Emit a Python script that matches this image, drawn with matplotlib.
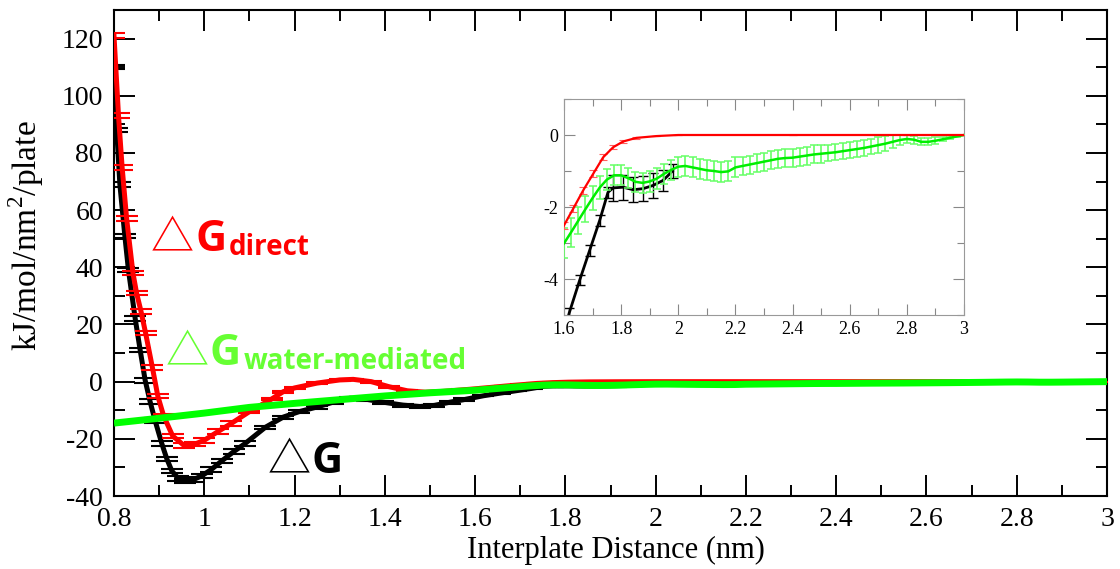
import matplotlib
matplotlib.use("Agg")
import matplotlib.pyplot as plt
from matplotlib.ticker import MultipleLocator, FuncFormatter

plt.rcParams['font.family'] = ['Liberation Serif', 'DejaVu Serif']
plt.rcParams['mathtext.fontset'] = 'custom'
plt.rcParams['mathtext.rm'] = 'Liberation Serif'

# dG total (black)
tot_x = [0.800, 0.806, 0.813, 0.824, 0.832, 0.847, 0.858, 0.869, 0.880, 0.891, 0.906, 0.917, 0.928,
         0.942, 0.957, 0.975, 0.994, 1.015, 1.039, 1.065, 1.090, 1.135, 1.175, 1.210, 1.249, 1.285,
         1.323, 1.360, 1.397, 1.440, 1.478, 1.510, 1.544, 1.575, 1.618, 1.655, 1.690, 1.725, 1.754,
         1.772, 1.807, 1.842, 1.877, 1.912, 1.947, 1.980]
tot_y = [110, 88, 69, 51, 39, 22, 11, 0.5, -7, -13.6, -21.7, -27, -31.2,
         -33.8, -34.7, -34.3, -33, -30.8, -27.7, -24.5, -21.7, -16, -12.4, -10.5, -8.9, -7.2,
         -5.8, -6.2, -7.2, -8.2, -8.7, -8.3, -7.2, -6.3, -4.95, -4.03, -3.2, -2.37, -1.59,
         -1.47, -1.45, -1.52, -1.49, -1.4, -1.26, -1.0]
tot_err = [0.8] * 21 + [0.5] * 13 + [0.15, 0.15, 0.15, 0.15, 0.15, 0.35, 0.35, 0.35, 0.35, 0.35, 0.3, 0.2]

# dG direct (red)
dir_x = [0.800, 0.810, 0.818, 0.828, 0.842, 0.850, 0.860, 0.870, 0.885, 0.897, 0.910, 0.930, 0.955,
         0.980, 1.000, 1.030, 1.060, 1.100, 1.150, 1.175, 1.200, 1.250, 1.300, 1.330, 1.370, 1.410,
         1.450, 1.490, 1.530, 1.570, 1.600, 1.632, 1.667, 1.702, 1.737, 1.772, 1.807, 1.853, 1.923,
         2.000, 2.400, 2.800, 3.000]
dir_y = [121, 93, 75, 57, 38, 31, 24.5, 17, 5, -5, -12, -19, -22.3,
         -21.8, -20.5, -17.5, -14.6, -10.5, -6, -3.5, -2.2, -0.5, 0.6, 0.8, 0, -1.8,
         -3.2, -3.7, -3.4, -2.9, -2.51, -2.05, -1.54, -1.08, -0.62, -0.34, -0.18, -0.08, -0.03,
         0, 0, 0, 0]
dir_err = [0.8] * 17 + [0.3] * 13 + [0.1, 0.1, 0.1, 0.1, 0.08, 0.06, 0.04, 0.02, 0.0, 0.0, 0.0, 0.0, 0.0]

# dG water-mediated (green)
wat_x = [0.80, 0.90, 1.00, 1.10, 1.20, 1.30, 1.40, 1.50, 1.55,
         1.600, 1.625, 1.650, 1.675, 1.700, 1.725, 1.750, 1.775, 1.800, 1.825, 1.850, 1.875,
         1.900, 1.925, 1.950, 1.975, 2.000, 2.025, 2.050, 2.075, 2.100, 2.125, 2.150, 2.175,
         2.200, 2.225, 2.250, 2.275, 2.300, 2.325, 2.350, 2.375, 2.400, 2.425, 2.450, 2.475,
         2.500, 2.525, 2.550, 2.575, 2.600, 2.625, 2.650, 2.675, 2.700, 2.725, 2.750, 2.775,
         2.800, 2.825, 2.850, 2.875, 2.900, 2.925, 2.950, 2.975, 3.000]
wat_y = [-14.5, -12.8, -11.0, -9.0, -7.6, -6.3, -5.0, -3.9, -3.45,
         -3.01, -2.70, -2.38, -2.06, -1.75, -1.46, -1.24, -1.12, -1.12, -1.20, -1.30, -1.33,
         -1.29, -1.21, -1.08, -0.97, -0.88, -0.86, -0.90, -0.94, -0.98, -1.00, -1.03, -1.01,
         -0.90, -0.86, -0.82, -0.78, -0.74, -0.70, -0.66, -0.64, -0.63, -0.60, -0.57, -0.54,
         -0.52, -0.50, -0.48, -0.45, -0.42, -0.39, -0.36, -0.32, -0.28, -0.24, -0.19, -0.14,
         -0.11, -0.13, -0.19, -0.19, -0.16, -0.12, -0.08, -0.04, 0.00]
wat_err = [0.0] * 9 + [0.42, 0.40, 0.38, 0.36, 0.34, 0.32, 0.30] + [0.28] * 18 + [0.25] * 12 \
          + [0.22] * 8 + [0.20, 0.18, 0.15, 0.12, 0.11, 0.10, 0.10, 0.10, 0.06, 0.04, 0.02, 0.0]

fmt = FuncFormatter(lambda v, p: '%g' % round(v, 6))

fig = plt.figure(figsize=(11.2, 5.69), dpi=100)
ax = fig.add_axes([114 / 1120, 1 - 496 / 569, 993 / 1120, 486 / 569])

ax.errorbar(tot_x, tot_y, yerr=tot_err, color='black', lw=3.6, elinewidth=1.5,
            capsize=8, capthick=1.5, zorder=2)
ax.errorbar(dir_x, dir_y, yerr=dir_err, color='#ff0000', lw=3.6, elinewidth=1.5,
            capsize=8, capthick=1.5, zorder=3)
ax.plot(wat_x, wat_y, color='#00ff00', lw=5, zorder=4, solid_capstyle='butt')

ax.set_xlim(0.8, 3.0)
ax.set_ylim(-40, 130)
ax.xaxis.set_major_locator(MultipleLocator(0.2))
ax.xaxis.set_minor_locator(MultipleLocator(0.1))
ax.yaxis.set_major_locator(MultipleLocator(20))
ax.yaxis.set_minor_locator(MultipleLocator(10))
ax.xaxis.set_major_formatter(fmt)
ax.yaxis.set_major_formatter(fmt)
ax.tick_params(which='both', direction='in', top=True, right=True, width=1.4, labelsize=20)
ax.tick_params(which='major', length=15, pad=8)
ax.tick_params(which='minor', length=8)
for s in ax.spines.values():
    s.set_linewidth(1.5)

ax.set_xlabel('Interplate Distance (nm)', fontsize=22)
ax.set_ylabel('kJ/mol/nm$^2$/plate', fontsize=24)
ax.xaxis.set_label_coords(0.5055, -0.082)
ax.yaxis.set_label_coords(-0.068, 0.535)

# inset
axin = fig.add_axes([564 / 1120, 1 - 315 / 569, 400 / 1120, 216 / 569])
axin.errorbar(wat_x, wat_y, yerr=wat_err, color='#00ee00', lw=1.8, ecolor='#66ff66',
              elinewidth=1.2, capsize=2.8, capthick=1.1, zorder=3)
axin.errorbar(tot_x, tot_y, yerr=tot_err, color='black', lw=2, elinewidth=1,
              capsize=3.5, capthick=1, zorder=2)
axin.errorbar(dir_x, dir_y, yerr=dir_err, color='#ff0000', lw=1.6, ecolor='#ff6060',
              elinewidth=0.8, capsize=3, capthick=0.8, zorder=4)
axin.set_xlim(1.6, 3.0)
axin.set_ylim(-5, 1)
axin.xaxis.set_major_locator(MultipleLocator(0.2))
axin.xaxis.set_minor_locator(MultipleLocator(0.1))
axin.yaxis.set_major_locator(MultipleLocator(2))
axin.yaxis.set_minor_locator(MultipleLocator(1))
axin.xaxis.set_major_formatter(fmt)
axin.yaxis.set_major_formatter(fmt)
axin.tick_params(which='both', direction='in', top=True, right=True, width=0.8,
                 color='#888888', labelsize=13)
axin.tick_params(which='major', length=8, pad=4)
axin.tick_params(which='minor', length=5)
for s in axin.spines.values():
    s.set_linewidth(0.8)
    s.set_color('#999999')

# curve labels
tri = ['Noto Sans CJK SC', 'DejaVu Sans']
bold = ['Open Sans', 'DejaVu Sans']

def label(x0, base, sub, col):
    fig.text(x0 / 1120, 1 - base / 569, '\u25b3', color=col, fontsize=31,
             family=tri, va='baseline', ha='left')
    fig.text((x0 + 44) / 1120, 1 - base / 569, 'G', color=col, fontsize=31,
             family=bold, weight='bold', va='baseline', ha='left')
    if sub:
        fig.text((x0 + 78) / 1120, 1 - (base + 4) / 569, sub, color=col, fontsize=20,
                 family=bold, weight='bold', va='baseline', ha='left')

label(151, 251, 'direct', '#ff0000')
label(166, 365, 'water-mediated', '#66ff33')
label(268, 473, '', 'black')

fig.savefig('out.png', dpi=100)
